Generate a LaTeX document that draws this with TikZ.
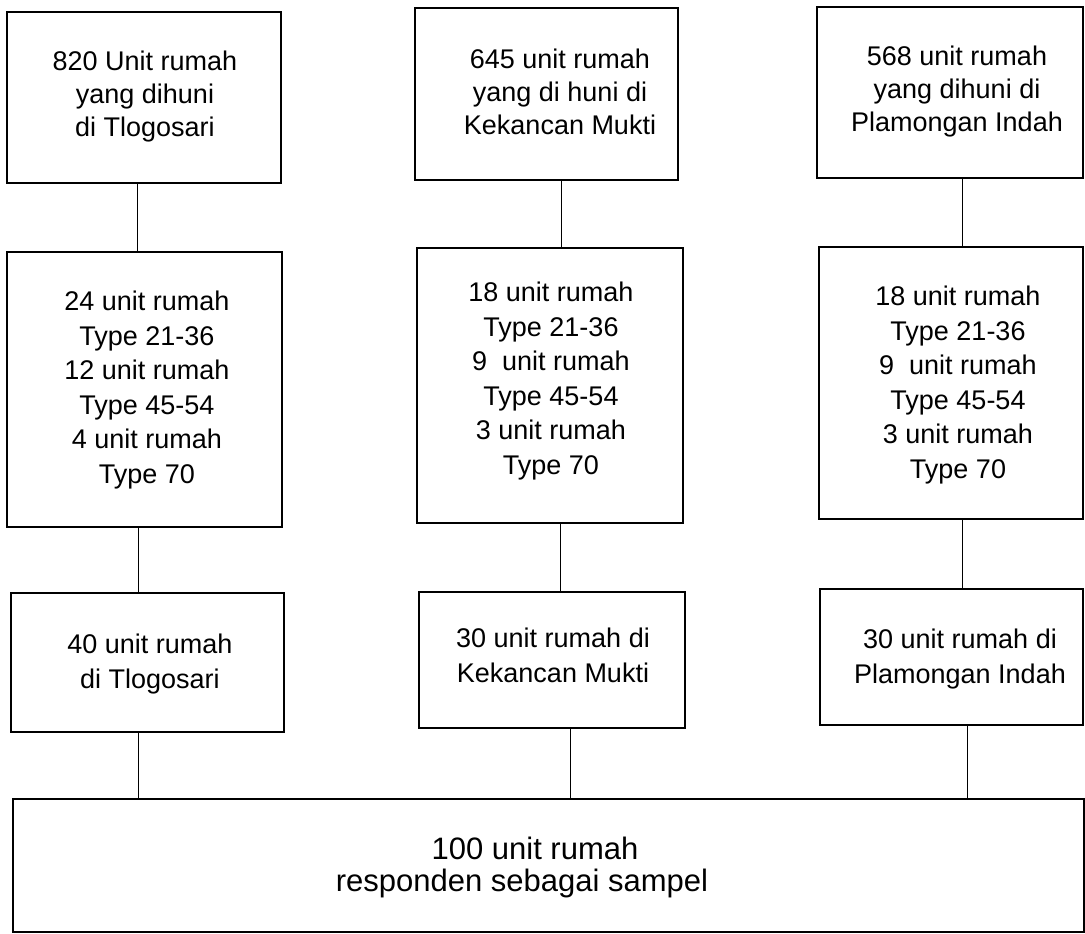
\documentclass[tikz,border=0pt]{standalone}
\usepackage{fontspec}
\setmainfont{Liberation Sans}
\begin{document}
\begin{tikzpicture}[x=1pt,y=-1pt,
  box/.style={draw=black,line width=1.8pt,inner sep=0pt,outer sep=0pt,fill=none},
  txtone/.style={align=center,inner sep=0pt,font=\fontsize{27}{33}\selectfont},
  txttwo/.style={align=center,inner sep=0pt,font=\fontsize{27}{34.5}\selectfont},
  txtthree/.style={align=center,inner sep=0pt,font=\fontsize{27}{35}\selectfont},
  txtbottom/.style={align=center,inner sep=0pt,font=\fontsize{31}{32}\selectfont},
  conn/.style={draw=black,line width=1pt}]
\fill[white] (0,0) rectangle (1085,934);
\useasboundingbox (0,0) rectangle (1085,934);
% row 1
\node[box,minimum width=274pt,minimum height=171pt] (A1) at (144,97.5) {};
\node[box,minimum width=263pt,minimum height=172pt] (B1) at (546.5,94) {};
\node[box,minimum width=266pt,minimum height=171pt] (C1) at (950,92.5) {};
% row 2
\node[box,minimum width=275pt,minimum height=275pt] (A2) at (144.5,389.5) {};
\node[box,minimum width=266pt,minimum height=275pt] (B2) at (550,385.5) {};
\node[box,minimum width=264pt,minimum height=272pt] (C2) at (951,383) {};
% row 3
\node[box,minimum width=273pt,minimum height=139pt] (A3) at (147.5,662.5) {};
\node[box,minimum width=266pt,minimum height=136pt] (B3) at (552,660) {};
\node[box,minimum width=263pt,minimum height=136pt] (C3) at (951.5,657) {};
% bottom
\node[box,minimum width=1071pt,minimum height=133pt] (D) at (548.5,865.5) {};
% texts
\node[txtone] (tA1) at (145,97) {820 Unit rumah\\yang dihuni\\di Tlogosari};
\node[txtone] (tB1) at (560,92) {645 unit rumah\\yang di huni di\\Kekancan Mukti};
\node[txtone] (tC1) at (957,92) {568 unit rumah\\yang dihuni di\\Plamongan Indah};
\node[txttwo] (tA2) at (147,390) {24 unit rumah\\Type 21-36\\12 unit rumah\\Type 45-54\\4 unit rumah\\Type 70};
\node[txttwo] (tB2) at (551,381) {18 unit rumah\\Type 21-36\\9\ \ unit rumah\\Type 45-54\\3 unit rumah\\Type 70};
\node[txttwo] (tC2) at (958,385) {18 unit rumah\\Type 21-36\\9\ \ unit rumah\\Type 45-54\\3 unit rumah\\Type 70};
\node[txtthree] (tA3) at (150,664) {40 unit rumah\\di Tlogosari};
\node[txtthree] (tB3) at (553,655) {30 unit rumah di\\Kekancan Mukti};
\node[txtthree] (tC3) at (960,659) {30 unit rumah di\\Plamongan Indah};
\node[txtbottom] (tD) at (522,867) {\hspace*{26pt}100 unit rumah\\responden sebagai sampel};
% connectors
\draw[conn] ([xshift=-7pt]A1.south) -- ([xshift=-7pt]A1.south |- A2.north);
\draw[conn] ([xshift=-6.5pt]A2.south) -- ([xshift=-6.5pt]A2.south |- A3.north);
\draw[conn] ([xshift=-9.5pt]A3.south) -- ([xshift=-9.5pt]A3.south |- D.north);
\draw[conn] ([xshift=14.5pt]B1.south) -- ([xshift=14.5pt]B1.south |- B2.north);
\draw[conn] ([xshift=10pt]B2.south) -- ([xshift=10pt]B2.south |- B3.north);
\draw[conn] ([xshift=18pt]B3.south) -- ([xshift=18pt]B3.south |- D.north);
\draw[conn] ([xshift=12pt]C1.south) -- ([xshift=12pt]C1.south |- C2.north);
\draw[conn] ([xshift=11pt]C2.south) -- ([xshift=11pt]C2.south |- C3.north);
\draw[conn] ([xshift=15.5pt]C3.south) -- ([xshift=15.5pt]C3.south |- D.north);
\end{tikzpicture}
\end{document}
